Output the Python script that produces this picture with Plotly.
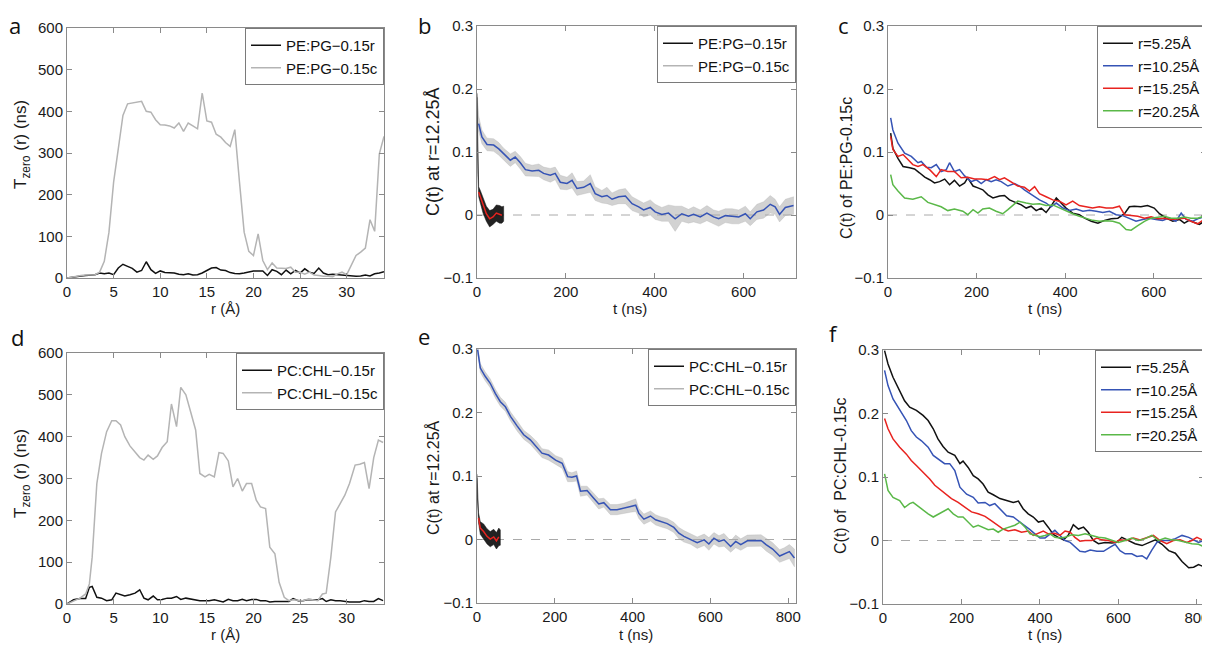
import plotly.graph_objects as go

# the page body adds an 8 px margin, so the figure is drawn 8 px in from the corner
OFF = 8
W, H = 1210 - OFF, 648 - OFF

# ---------------- a : T_zero(r), PE:PG ----------------
a_r = [i * 0.5 for i in range(69)]
a_rand = [0, 2, 4, 5, 6, 7, 8, 12, 10, 12,
          8, 24, 33, 28, 23, 14, 18, 39, 20, 11,
          17, 13, 12, 12, 9, 8, 10, 7, 8, 12,
          18, 24, 25, 19, 18, 13, 11, 10, 12, 15,
          17, 17, 17, 6, 20, 16, 8, 19, 10, 18,
          12, 22, 14, 11, 24, 12, 8, 9, 8, 7,
          6, 5, 4, 5, 7, 5, 10, 12, 15]
a_clust = [0, 2, 5, 6, 7, 7, 8, 14, 40, 110,
           230, 310, 390, 418, 420, 421, 424, 400, 398, 380,
           368, 367, 365, 360, 372, 352, 372, 365, 358, 444,
           377, 374, 345, 338, 325, 316, 356, 230, 110, 64,
           54, 106, 42, 20, 36, 24, 23, 23, 26, 14,
           14, 9, 14, 7, 6, 4, 4, 3, 10, 14,
           8, 30, 54, 62, 72, 140, 112, 298, 340]

# ---------------- d : T_zero(r), PC:CHL ----------------
d_r = [0, 0.7, 1.4, 2.0, 2.4, 2.7, 3.2, 3.7, 4.25, 4.8,
       5.25, 5.75, 6.2, 6.75, 7.3, 7.8, 8.25, 8.7, 9.25, 9.7,
       10.2, 10.75, 11.2, 11.75, 12.2, 12.75, 13.25, 13.8, 14.25, 14.8,
       15.25, 15.8, 16.3, 16.75, 17.3, 17.8, 18.3, 18.8, 19.25, 19.8,
       20.3, 20.75, 21.3, 21.75, 22.3, 22.75, 23.3, 23.8, 24.25, 24.8,
       25.3, 25.9, 26.3, 26.9, 27.4, 27.8, 28.3, 28.8, 29.3, 29.8,
       30.3, 30.9, 31.4, 31.9, 32.4, 32.9, 33.4, 33.9]
d_rand = [0, 10, 13, 13, 40, 42, 16, 14, 8, 10,
          26, 22, 19, 22, 26, 34, 14, 10, 19, 10,
          11, 14, 14, 18, 11, 14, 12, 10, 8, 8,
          8, 10, 8, 5, 11, 8, 8, 11, 8, 11,
          11, 8, 8, 5, 6, 6, 6, 6, 13, 8,
          8, 11, 10, 10, 13, 6, 10, 8, 8, 6,
          5, 5, 5, 8, 6, 6, 13, 8]
d_clust = [0, 8, 14, 24, 48, 112, 288, 360, 412, 438,
           438, 428, 400, 378, 364, 350, 344, 356, 346, 354,
           374, 388, 478, 424, 518, 500, 460, 416, 312, 304,
           310, 304, 362, 360, 342, 280, 300, 270, 288, 288,
           248, 232, 228, 136, 120, 52, 16, 8, 10, 8,
           8, 12, 10, 8, 24, 26, 112, 220, 240, 260,
           288, 332, 334, 338, 276, 350, 392, 386]

# ---------------- b : C(t) at r=12.25, PE:PG ----------------
b_t = [3.75, 11, 22.5, 37.5, 49, 60, 75, 86, 97.5, 109,
       124, 139, 150, 165, 176, 187.5, 202.5, 214, 225, 240,
       255, 266, 281, 292.5, 304, 319, 334, 349, 364, 375,
       390, 401, 416, 431, 446, 461, 476, 487.5, 502.5, 517.5,
       532.5, 544, 559, 574, 589, 604, 615, 630, 645, 660,
       671, 681, 694, 712.5]
b_smooth = [0.145, 0.124, 0.112, 0.111, 0.105, 0.097, 0.087, 0.092, 0.083, 0.072,
            0.070, 0.071, 0.066, 0.063, 0.066, 0.052, 0.050, 0.055, 0.042, 0.044,
            0.050, 0.034, 0.029, 0.031, 0.025, 0.029, 0.030, 0.018, 0.013, 0.008,
            0.012, 0.005, 0.001, 0.003, -0.006, 0.002, -0.002, 0.001, -0.003, 0.003,
            -0.003, -0.006, -0.001, -0.002, -0.003, 0.002, -0.006, 0.005, 0.008, 0.017,
            0.013, 0.001, 0.012, 0.015]
b_spread = [0.012, 0.011, 0.010, 0.010, 0.010, 0.009, 0.010, 0.009, 0.010, 0.010,
            0.009, 0.010, 0.010, 0.011, 0.010, 0.011, 0.010, 0.012, 0.011, 0.010,
            0.014, 0.011, 0.010, 0.013, 0.010, 0.011, 0.012, 0.011, 0.010, 0.011,
            0.012, 0.012, 0.011, 0.013, 0.020, 0.012, 0.011, 0.012, 0.011, 0.012,
            0.011, 0.012, 0.011, 0.012, 0.011, 0.012, 0.011, 0.012, 0.013, 0.014,
            0.012, 0.012, 0.013, 0.014]
b_head_t = [0.5, 2]
b_head = [0.19, 0.165]
b_head_spread = [0.004, 0.008]
b_r_t = [0, 1, 2, 3.75, 7.5, 13.5, 21, 28.5, 36, 43.5, 51, 56, 60]
b_r_raw = [0.19, 0.12, 0.07, 0.037, 0.029, 0.015, 0.002, -0.006, -0.003, 0.003, 0.001, 0.0, 0.002]
b_r_spread = [0.003, 0.004, 0.006, 0.008, 0.010, 0.012, 0.012, 0.013, 0.012, 0.013, 0.014, 0.013, 0.012]
b_r_fit_t = [3.75, 7.5, 13.5, 21, 28.5, 36, 43.5, 51, 56]
b_r_fit = [0.0365, 0.0286, 0.015, 0.002, -0.006, -0.003, 0.003, 0.001, -0.0005]

# ---------------- e : C(t) at r=12.25, PC:CHL ----------------
e_t = [1.6, 8.5, 21, 34, 47, 60, 73, 86, 103, 120,
       137, 154, 167, 184, 202, 219, 233, 244, 256, 266,
       283, 300, 313, 326, 343, 360, 377, 395, 408, 416,
       429, 446, 459, 472, 489, 506, 519, 532, 549, 566,
       584, 596, 609, 622, 635, 652, 665, 678, 695, 712,
       730, 743, 760, 778, 790, 803, 816]
e_smooth = [0.299, 0.270, 0.257, 0.246, 0.230, 0.217, 0.209, 0.194, 0.179, 0.165,
            0.157, 0.146, 0.136, 0.133, 0.125, 0.120, 0.099, 0.098, 0.100, 0.076,
            0.077, 0.065, 0.056, 0.058, 0.047, 0.047, 0.049, 0.052, 0.054, 0.041,
            0.032, 0.037, 0.031, 0.028, 0.025, 0.019, 0.010, 0.005, 0.0005, -0.005,
            -0.0005, -0.007, 0.002, -0.003, -0.0005, -0.011, -0.003, -0.008, -0.002, -0.002,
            -0.0015, -0.008, -0.015, -0.026, -0.023, -0.019, -0.029]
e_spread = [0.006, 0.007, 0.007, 0.007, 0.007, 0.007, 0.007, 0.007, 0.008, 0.007,
            0.007, 0.008, 0.007, 0.008, 0.007, 0.008, 0.008, 0.007, 0.008, 0.008,
            0.007, 0.008, 0.008, 0.007, 0.008, 0.008, 0.008, 0.009, 0.010, 0.008,
            0.008, 0.008, 0.008, 0.008, 0.008, 0.008, 0.009, 0.009, 0.008, 0.009,
            0.009, 0.010, 0.009, 0.009, 0.010, 0.009, 0.010, 0.009, 0.009, 0.009,
            0.009, 0.010, 0.010, 0.010, 0.010, 0.011, 0.014]
e_r_t = [0, 1, 2, 4, 8.5, 17, 25.7, 34, 43, 50, 56, 60]
e_r_raw = [0.10, 0.07, 0.05, 0.034, 0.018, 0.0126, 0.005, 0.0005, 0.004, -0.002, 0.004, 0.003]
e_r_spread = [0.003, 0.004, 0.006, 0.008, 0.010, 0.012, 0.012, 0.012, 0.012, 0.013, 0.014, 0.012]
e_r_fit_t = [4, 8.5, 17, 25.7, 34, 43, 50, 56]
e_r_fit = [0.034, 0.018, 0.0126, 0.005, 0.0005, 0.004, -0.002, 0.004]

# ---------------- c : C(t) of PE:PG-0.15c at four r ----------------
c_k_t = [6, 11, 22.5, 34, 49, 60, 71, 83, 94, 105,
         116.5, 128, 139, 150, 161.6, 173, 180, 192, 203, 214,
         225.6, 237, 252, 263, 274.4, 289.5, 301, 312, 323, 334.6,
         346, 357, 368, 380, 391, 402, 417, 432, 444, 459,
         474, 489, 504, 519, 534, 545, 556, 571, 586, 601,
         613, 628, 643, 658, 669, 680, 692, 703, 714]
c_k = [0.130, 0.106, 0.090, 0.077, 0.075, 0.073, 0.067, 0.060, 0.056, 0.051,
       0.053, 0.057, 0.048, 0.055, 0.046, 0.051, 0.059, 0.046, 0.043, 0.040,
       0.032, 0.027, 0.030, 0.031, 0.024, 0.020, 0.016, 0.011, 0.014, 0.007,
       0.011, 0.004, 0.014, 0.027, 0.019, 0.011, 0.003, 0.0005, -0.005, -0.010,
       -0.013, -0.0085, -0.006, -0.005, 0.002, 0.013, 0.014, 0.013, 0.015, 0.011,
       0.002, -0.005, -0.010, -0.007, -0.013, -0.0085, -0.012, -0.015, -0.010]
c_b_t = [6, 11, 22.5, 37.5, 52.6, 67.7, 75, 86.5, 97.7, 109,
         120, 131.6, 139, 150, 161.6, 173, 188, 199, 210.5, 222,
         233, 244, 255.6, 270.7, 285.7, 297, 308, 319.5, 331, 342,
         357, 368, 380, 395, 410, 425, 440, 455, 470, 485,
         500, 515, 530, 545, 560, 575, 590, 605, 620, 635,
         650, 662, 673, 688, 703, 714]
c_b = [0.154, 0.135, 0.114, 0.098, 0.093, 0.083, 0.085, 0.076, 0.075, 0.080,
       0.069, 0.072, 0.083, 0.069, 0.072, 0.062, 0.053, 0.056, 0.050, 0.056,
       0.053, 0.056, 0.053, 0.046, 0.050, 0.046, 0.040, 0.035, 0.030, 0.024,
       0.019, 0.013, 0.019, 0.011, 0.007, 0.0095, 0.006, 0.0074, 0.006, 0.004,
       0.006, 0.0005, -0.001, -0.005, -0.010, -0.007, -0.005, -0.007, -0.0085, -0.005,
       -0.010, 0.003, -0.007, -0.010, -0.005, -0.003]
c_r_t = [6, 11, 22.5, 34, 45, 56, 67.7, 79, 94, 109,
         120, 135, 150, 165, 180, 195.5, 210.5, 225.6, 240.6, 252,
         263, 278, 293, 308, 319.5, 331, 342, 357, 372, 387,
         402, 417, 432, 447, 462, 477, 492.5, 507.5, 522.6, 534,
         549, 564, 579, 594, 609, 624, 639, 654, 669, 684,
         699, 714]
c_r = [0.125, 0.104, 0.093, 0.096, 0.088, 0.080, 0.077, 0.080, 0.072, 0.061,
       0.072, 0.069, 0.069, 0.059, 0.060, 0.057, 0.057, 0.056, 0.061, 0.056,
       0.059, 0.053, 0.046, 0.044, 0.038, 0.045, 0.034, 0.029, 0.024, 0.022,
       0.016, 0.022, 0.015, 0.013, 0.011, 0.013, 0.011, 0.011, 0.014, 0.0005,
       -0.001, -0.002, -0.005, -0.003, -0.006, -0.005, -0.007, -0.006, -0.005, -0.010,
       -0.014, -0.007]
c_g_t = [6, 11, 22.5, 37.5, 56, 75, 90, 105, 120, 135,
         150, 169, 180, 192, 203, 214, 229, 244, 259, 270.7,
         282, 293, 312, 327, 342, 357, 372, 387, 402, 417,
         432, 447, 462, 477, 492.5, 507.5, 522.6, 537.6, 549, 564,
         579, 594, 609, 624, 639, 654, 669, 684, 699, 714]
c_g = [0.064, 0.048, 0.038, 0.027, 0.025, 0.029, 0.020, 0.016, 0.013, 0.007,
       0.0095, 0.006, 0.0005, 0.0085, 0.003, 0.0095, 0.011, 0.006, 0.002, 0.0085,
       0.016, 0.022, 0.019, 0.017, 0.018, 0.015, 0.016, 0.011, 0.006, 0.002,
       -0.002, -0.005, -0.0085, -0.010, -0.009, -0.010, -0.013, -0.023, -0.024, -0.017,
       -0.010, -0.005, -0.003, -0.002, -0.005, -0.005, -0.003, -0.005, -0.005, -0.002]

# ---------------- f : C(t) of PC:CHL-0.15c at four r ----------------
f_k_t = [4, 12.8, 25.5, 42.5, 55, 68, 85, 102, 115, 128,
         140, 153, 166, 183, 196, 204, 217, 230, 242.5, 255,
         268, 281, 298, 315, 332, 345, 357, 370, 383, 396,
         408.5, 421, 434, 447, 460, 472, 485, 498, 511, 523,
         536, 549, 566, 583, 596, 608.5, 625.5, 642.5, 660, 677,
         694, 711, 728, 745, 762, 779, 791.5, 804, 817]
f_k = [0.299, 0.278, 0.257, 0.236, 0.220, 0.210, 0.205, 0.197, 0.189, 0.176,
       0.160, 0.148, 0.139, 0.134, 0.121, 0.125, 0.115, 0.102, 0.097, 0.089,
       0.076, 0.072, 0.066, 0.063, 0.060, 0.062, 0.050, 0.042, 0.037, 0.029,
       0.031, 0.021, 0.0095, 0.005, 0.001, 0.008, 0.025, 0.018, 0.021, 0.013,
       0.000, -0.005, -0.003, -0.004, -0.003, 0.005, 0.000, -0.005, -0.008, -0.004,
       0.001, -0.006, -0.016, -0.020, -0.033, -0.043, -0.042, -0.038, -0.041]
f_b_t = [4, 12.8, 25.5, 42.5, 59.6, 72, 85, 98, 115, 128,
         140, 157, 170, 183, 196, 213, 230, 242.5, 260, 272,
         285, 298, 315, 332, 349, 362, 374.5, 387, 400, 413,
         425.5, 438, 451, 464, 477, 489, 502, 515, 528, 545,
         562, 579, 591.5, 604, 617, 634, 647, 660, 672, 685,
         698, 711, 728, 745, 762, 779, 791.5, 804, 817]
f_b = [0.268, 0.244, 0.223, 0.205, 0.189, 0.173, 0.163, 0.157, 0.147, 0.134,
       0.129, 0.121, 0.121, 0.110, 0.084, 0.073, 0.068, 0.059, 0.060, 0.055,
       0.058, 0.050, 0.039, 0.037, 0.029, 0.024, 0.017, 0.0105, 0.004, 0.004,
       0.0095, 0.016, 0.008, 0.000, -0.003, -0.0095, -0.017, -0.018, -0.015, -0.017,
       -0.017, -0.0105, -0.006, -0.016, -0.021, -0.021, -0.025, -0.024, -0.029, -0.015,
       -0.003, 0.000, 0.000, 0.003, 0.008, 0.005, 0.001, -0.003, 0.000]
f_r_t = [4, 12.8, 25.5, 42.5, 59.6, 72, 85, 102, 119, 132,
         149, 162, 174.5, 191.5, 208.5, 225.5, 242.5, 260, 276.6, 293.6,
         306, 319, 336, 353, 370, 383, 396, 408.5, 421, 438,
         451, 464, 477, 489, 502, 515, 532, 545, 557, 574,
         591.5, 604, 621, 638, 655, 672, 689, 706, 723, 740,
         757, 774, 787, 800, 817]
f_r = [0.192, 0.176, 0.160, 0.147, 0.136, 0.126, 0.118, 0.108, 0.097, 0.087,
       0.079, 0.073, 0.066, 0.060, 0.052, 0.045, 0.042, 0.038, 0.031, 0.024,
       0.018, 0.015, 0.017, 0.013, 0.015, 0.008, 0.0115, 0.015, 0.0105, 0.0115,
       0.008, 0.015, 0.013, 0.005, -0.001, 0.000, 0.000, 0.004, 0.001, 0.000,
       -0.003, 0.001, 0.000, 0.004, 0.001, 0.005, 0.008, 0.000, -0.005, 0.000,
       0.001, -0.003, 0.000, 0.005, 0.000]
f_g_t = [4, 12.8, 25.5, 42.5, 55, 68, 76.6, 89, 102, 115,
         128, 140, 153, 166, 179, 191.5, 204, 217, 230, 242.5,
         255, 268, 281, 293.6, 306, 319, 336, 349, 362, 374.5,
         387, 400, 413, 425.5, 438, 451, 464, 481, 498, 515,
         532, 549, 566, 583, 600, 617, 634, 651, 668, 685,
         702, 719, 736, 753, 770, 787, 804, 817]
f_g = [0.105, 0.079, 0.068, 0.063, 0.052, 0.058, 0.060, 0.054, 0.047, 0.042,
       0.037, 0.041, 0.045, 0.050, 0.042, 0.037, 0.037, 0.029, 0.021, 0.024,
       0.021, 0.017, 0.018, 0.013, 0.018, 0.021, 0.024, 0.029, 0.021, 0.0105,
       0.008, 0.006, 0.008, 0.0105, 0.005, 0.004, 0.005, 0.009, 0.008, 0.0105,
       0.008, 0.005, 0.004, 0.001, -0.003, 0.000, 0.004, 0.000, 0.003, 0.008,
       0.000, 0.004, 0.001, 0.000, -0.003, -0.005, -0.006, -0.0095]

r_labels = ["r=5.25Å", "r=10.25Å", "r=15.25Å", "r=20.25Å"]

BLACK = "#111111"
GRAY = "#b4b4b4"
BLUE = "#3553b5"
RED = "#e8231f"
GREEN = "#5ab848"
FONT = "Liberation Sans, Arial, sans-serif"


def px(x):
    return (x - OFF) / W


def py(y):
    return 1 - (y - OFF) / H


fig = go.Figure()


def band(t, mid, half, color, xa, ya):
    hi = [m + h for m, h in zip(mid, half)]
    lo = [m - h for m, h in zip(mid, half)]
    fig.add_trace(go.Scatter(x=list(t) + list(t)[::-1], y=hi + lo[::-1],
                             fill="toself", fillcolor=color, mode="lines",
                             line=dict(width=0.5, color=color),
                             xaxis=xa, yaxis=ya, showlegend=False, hoverinfo="skip"))


def line(t, v, color, xa, ya, width=1.5, name=None, legend=None):
    fig.add_trace(go.Scatter(x=t, y=v, mode="lines", line=dict(color=color, width=width),
                             xaxis=xa, yaxis=ya, name=name,
                             showlegend=name is not None, legend=legend))


def key(name, color, xa, ya, legend):
    fig.add_trace(go.Scatter(x=[None], y=[None], mode="lines", line=dict(color=color, width=1.5),
                             xaxis=xa, yaxis=ya, name=name, legend=legend))


# a
line(a_r, a_rand, BLACK, "x", "y", name="PE:PG−0.15r", legend="legend")
line(a_r, a_clust, GRAY, "x", "y", name="PE:PG−0.15c", legend="legend")
# d
line(d_r, d_rand, BLACK, "x4", "y4", name="PC:CHL−0.15r", legend="legend4")
line(d_r, d_clust, GRAY, "x4", "y4", name="PC:CHL−0.15c", legend="legend4")

# b
band(b_head_t + b_t, b_head + b_smooth, b_head_spread + b_spread, "rgba(165,165,165,0.5)", "x2", "y2")
band(b_r_t, b_r_raw, b_r_spread, "rgba(10,10,10,0.9)", "x2", "y2")
line(b_t, b_smooth, BLUE, "x2", "y2")
line(b_r_fit_t, b_r_fit, RED, "x2", "y2")
key("PE:PG−0.15r", BLACK, "x2", "y2", "legend2")
key("PE:PG−0.15c", GRAY, "x2", "y2", "legend2")

# e
band(e_t, e_smooth, e_spread, "rgba(165,165,165,0.5)", "x5", "y5")
band(e_r_t, e_r_raw, e_r_spread, "rgba(10,10,10,0.9)", "x5", "y5")
line(e_t, e_smooth, BLUE, "x5", "y5")
line(e_r_fit_t, e_r_fit, RED, "x5", "y5")
key("PC:CHL−0.15r", BLACK, "x5", "y5", "legend5")
key("PC:CHL−0.15c", GRAY, "x5", "y5", "legend5")

# c and f
for (t, v), col, lab in zip([(c_k_t, c_k), (c_b_t, c_b), (c_r_t, c_r), (c_g_t, c_g)],
                            [BLACK, BLUE, RED, GREEN], r_labels):
    line(t, v, col, "x3", "y3", name=lab, legend="legend3")
for (t, v), col, lab in zip([(f_k_t, f_k), (f_b_t, f_b), (f_r_t, f_r), (f_g_t, f_g)],
                            [BLACK, BLUE, RED, GREEN], r_labels):
    line(t, v, col, "x6", "y6", name=lab, legend="legend6")

# panel geometry in page pixels (left, right, top, bottom), axis-title centres, title size
panels = {
    "": dict(box=(67, 384, 28, 278), xr=[0, 34], yr=[0, 600], xt=list(range(0, 31, 5)),
             yt=list(range(0, 601, 100)), xl="r (Å)", yl="T<sub>zero</sub> (r) (ns)",
             xlc=(225, 308), ylc=(22, 145), ys=17),
    "2": dict(box=(477, 796, 26, 278), xr=[0, 718], yr=[-0.1, 0.3], xt=[0, 200, 400, 600],
              yt=[-0.1, 0, 0.1, 0.2, 0.3], xl="t (ns)", yl="C(t) at r=12.25Å",
              xlc=(630, 308), ylc=(433, 152), ys=18),
    "3": dict(box=(888, 1206, 26, 278), xr=[0, 718], yr=[-0.1, 0.3], xt=[0, 200, 400, 600],
              yt=[-0.1, 0, 0.1, 0.2, 0.3], xl="t (ns)", yl="C(t) of PE:PG-0.15c",
              xlc=(1045, 308), ylc=(846, 168), ys=16),
    "4": dict(box=(67, 384, 353, 604), xr=[0, 34], yr=[0, 600], xt=list(range(0, 31, 5)),
              yt=list(range(0, 601, 100)), xl="r (Å)", yl="T<sub>zero</sub> (r) (ns)",
              xlc=(225, 634), ylc=(22, 474), ys=17),
    "5": dict(box=(477, 796, 349, 603), xr=[0, 820], yr=[-0.1, 0.3], xt=[0, 200, 400, 600, 800],
              yt=[-0.1, 0, 0.1, 0.2, 0.3], xl="t (ns)", yl="C(t) at r=12.25Å",
              xlc=(636, 634), ylc=(433, 478), ys=16),
    "6": dict(box=(883, 1204, 350, 604), xr=[0, 818], yr=[-0.1, 0.3], xt=[0, 200, 400, 600, 800],
              yt=[-0.1, 0, 0.1, 0.2, 0.3], xl="t (ns)", yl="C(t) of  PC:CHL-0.15c",
              xlc=(1045, 634), ylc=(840, 476), ys=16),
}

axis_common = dict(showline=True, linecolor="#8a8a8a", linewidth=1, mirror="ticks",
                   ticks="inside", ticklen=5, tickcolor="#8a8a8a", showgrid=False,
                   zeroline=False, automargin=False,
                   tickfont=dict(family=FONT, size=15, color="#1a1a1a"))
layout = {}
shapes = []
annotations = []
for k, p in panels.items():
    x0, x1, y0, y1 = p["box"]
    layout["xaxis" + k] = dict(axis_common, domain=[px(x0), px(x1)], range=p["xr"],
                               tickvals=p["xt"], anchor="y" + k)
    layout["yaxis" + k] = dict(axis_common, domain=[py(y1), py(y0)], range=p["yr"],
                               tickvals=p["yt"], anchor="x" + k)
    annotations.append(dict(text=p["xl"], x=px(p["xlc"][0]), y=py(p["xlc"][1]),
                            xref="paper", yref="paper", showarrow=False,
                            xanchor="center", yanchor="middle",
                            font=dict(family=FONT, size=15, color="#1a1a1a")))
    annotations.append(dict(text=p["yl"], x=px(p["ylc"][0]), y=py(p["ylc"][1]),
                            xref="paper", yref="paper", showarrow=False, textangle=-90,
                            xanchor="center", yanchor="middle",
                            font=dict(family=FONT, size=p["ys"], color="#1a1a1a")))
    if p["yr"][0] < 0:
        shapes.append(dict(type="line", xref="x%s domain" % k, yref="y" + k,
                           x0=0, x1=1, y0=0, y1=0,
                           line=dict(color="#aaaaaa", width=1, dash="dash"), layer="below"))

legend_pos = {"legend": "", "legend2": "2", "legend3": "3",
              "legend4": "4", "legend5": "5", "legend6": "6"}
for lg, k in legend_pos.items():
    x0, x1, y0, y1 = panels[k]["box"]
    layout[lg] = dict(x=px(x1), y=py(y0), xanchor="right", yanchor="top",
                      bgcolor="white", bordercolor="#7a7a7a", borderwidth=1,
                      font=dict(family=FONT, size=15, color="#111111"),
                      itemwidth=30, tracegroupgap=0)

# panel letters: top row hangs from the top edge, bottom row centred on a pixel row
letter_font = dict(family="Open Sans, sans-serif", size=22, color="#111111")
for s, x in [("a", 15), ("b", 424), ("c", 843)]:
    annotations.append(dict(text=s, x=px(x), y=1, xref="paper", yref="paper",
                            showarrow=False, xanchor="center", yanchor="top", font=letter_font))
for s, x, y in [("d", 17, 337), ("e", 424, 336), ("f", 834, 333)]:
    annotations.append(dict(text=s, x=px(x), y=py(y), xref="paper", yref="paper",
                            showarrow=False, xanchor="center", yanchor="middle", font=letter_font))

fig.update_layout(width=W, height=H, margin=dict(l=0, r=0, t=0, b=0),
                  paper_bgcolor="white", plot_bgcolor="white",
                  shapes=shapes, annotations=annotations, **layout)

fig.write_html("out.html")
